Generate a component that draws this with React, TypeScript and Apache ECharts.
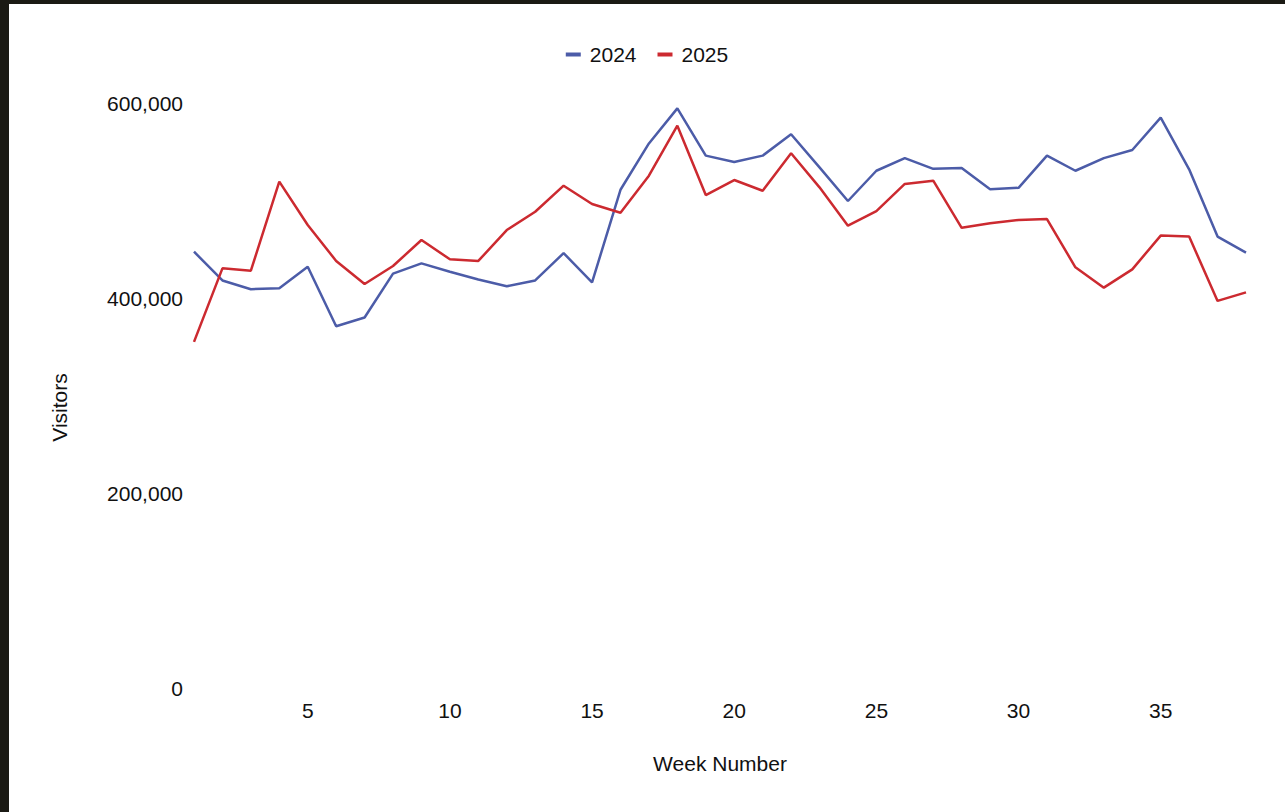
import React, { useEffect, useRef } from "react";
import * as echarts from "echarts";

const weeks: number[] = [
  1, 2, 3, 4, 5, 6, 7, 8, 9, 10, 11, 12, 13, 14, 15, 16, 17, 18, 19, 20,
  21, 22, 23, 24, 25, 26, 27, 28, 29, 30, 31, 32, 33, 34, 35, 36, 37, 38,
];

const visitors2024: number[] = [
  447500, 418000, 409000, 410000, 432000, 371000, 380000, 425000, 435500, 427000,
  419000, 412000, 418000, 446000, 416000, 511000, 558500, 594500, 546000, 539500,
  546000, 568000, 534000, 499500, 530500, 543500, 532500, 533300, 511500, 513000,
  546000, 530500, 543500, 551800, 585000, 532000, 463000, 446500,
];

const visitors2025: number[] = [
  355000, 430400, 428000, 519300, 474900, 438000, 414400, 432800, 459500, 439700,
  438000, 469700, 488500, 515200, 496400, 487500, 525500, 576700, 505600, 521000,
  510000, 548400, 513500, 474200, 489200, 517000, 520300, 472000, 476600, 480000,
  481000, 431500, 410600, 429400, 464000, 463000, 397000, 405800,
];

const seriesNames: string[] = ["2024", "2025"];
const yTicks: number[] = [0, 200000, 400000, 600000];

const FONT = "'Liberation Sans', Arial, Helvetica, sans-serif";
const TEXT = "#111111";

export default function App() {
  const ref = useRef<HTMLDivElement>(null);

  useEffect(() => {
    document.body.style.margin = "0";
    document.body.style.background = "#1b1a14";
    if (!ref.current) return;
    const chart = echarts.init(ref.current, undefined, { renderer: "svg" });
    const toPairs = (vals: number[]) => weeks.map((w, i) => [w, vals[i]]);
    chart.setOption({
      animation: false,
      backgroundColor: "#ffffff",
      textStyle: { fontFamily: FONT },
      legend: {
        top: 35,
        left: "center",
        icon: "rect",
        itemWidth: 15,
        itemHeight: 4,
        itemGap: 21,
        data: seriesNames,
        textStyle: {
          fontFamily: FONT,
          fontSize: 21,
          color: TEXT,
          padding: [0, 0, 0, 4],
        },
      },
      grid: { left: 185, right: 39, top: 99, bottom: 124 },
      xAxis: {
        type: "value",
        min: weeks[0],
        max: weeks[weeks.length - 1],
        interval: 1,
        name: "Week Number",
        nameLocation: "middle",
        nameGap: 65,
        nameTextStyle: { fontFamily: FONT, fontSize: 21, color: TEXT },
        axisLine: { show: false },
        axisTick: { show: false },
        splitLine: { show: false },
        axisLabel: {
          fontFamily: FONT,
          fontSize: 21,
          color: TEXT,
          margin: 12,
          showMinLabel: true,
          showMaxLabel: true,
          formatter: (v: number) => (v % 5 === 0 ? String(v) : ""),
        },
      },
      yAxis: {
        type: "value",
        min: yTicks[0],
        max: yTicks[yTicks.length - 1],
        interval: yTicks[1] - yTicks[0],
        name: "Visitors",
        nameLocation: "middle",
        nameGap: 124,
        nameTextStyle: {
          fontFamily: FONT,
          fontSize: 21,
          color: TEXT,
          padding: [0, 24, 0, 0],
        },
        axisLine: { show: false },
        axisTick: { show: false },
        splitLine: { show: false },
        axisLabel: {
          fontFamily: FONT,
          fontSize: 21,
          color: TEXT,
          margin: 11,
          formatter: (v: number) => v.toLocaleString("en-US"),
        },
      },
      series: [
        {
          name: seriesNames[0],
          type: "line",
          data: toPairs(visitors2024),
          showSymbol: false,
          symbol: "none",
          lineStyle: { color: "#4c5ca8", width: 2.5 },
          itemStyle: { color: "#4c5ca8" },
        },
        {
          name: seriesNames[1],
          type: "line",
          data: toPairs(visitors2025),
          showSymbol: false,
          symbol: "none",
          lineStyle: { color: "#cc2a30", width: 2.5 },
          itemStyle: { color: "#cc2a30" },
        },
      ],
    });
    return () => chart.dispose();
  }, []);

  return (
    <div style={{ width: 1285, height: 812, background: "#1b1a14", position: "relative", overflow: "hidden" }}>
      <div
        ref={ref}
        style={{ position: "absolute", left: 9, top: 4, width: 1276, height: 808, background: "#ffffff" }}
      />
    </div>
  );
}
